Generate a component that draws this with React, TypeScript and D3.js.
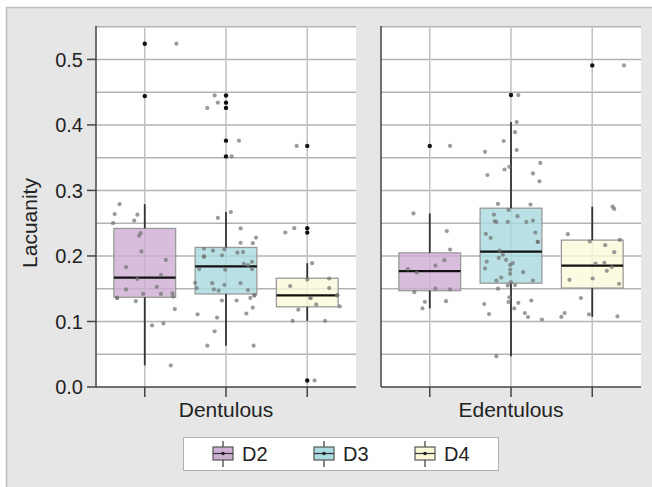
import * as d3 from 'd3';
import React from 'react';

// groups along the x axis of each panel
const panels = ['Dentulous', 'Edentulous'];
const series = ['D2', 'D3', 'D4'];
const seriesColors = ['#ceaed3', '#a9dbe0', '#fbf9d8'];
const yTicks = [0, 0.1, 0.2, 0.3, 0.4, 0.5];

// box stats per panel / series: [lowWhisker, q1, median, q3, highWhisker]
const dentStats = [
  [0.033, 0.137, 0.167, 0.242, 0.279],
  [0.063, 0.142, 0.184, 0.213, 0.267],
  [0.101, 0.1224, 0.1397, 0.166, 0.189],
];
const edentStats = [
  [0.12, 0.147, 0.1768, 0.2047, 0.265],
  [0.047, 0.1585, 0.2067, 0.2729, 0.4044],
  [0.107, 0.151, 0.1854, 0.2242, 0.2753],
];

// observations: [lacunarity, jitter (fraction of category step)]
const dentD2 = [
  [0.524, 0.39], [0.444, 0], [0.279, -0.31], [0.264, -0.37], [0.263, -0.09], [0.25, -0.39],
  [0.254, -0.13], [0.235, -0.05], [0.231, -0.07], [0.207, -0.04], [0.194, 0.26], [0.183, -0.23],
  [0.171, 0.2], [0.165, -0.09], [0.153, 0.15], [0.149, -0.23], [0.142, -0.02], [0.142, 0.2],
  [0.143, 0.34], [0.138, 0.35], [0.136, -0.34], [0.136, -0.34], [0.131, -0.11], [0.119, 0.37],
  [0.094, 0.09], [0.097, 0.23], [0.033, 0.32],
];
const dentD3 = [
  [0.445, -0.14], [0.434, -0.1], [0.426, -0.23], [0.376, 0.16], [0.352, 0.07],
  [0.267, 0.06], [0.258, -0.1], [0.242, 0.18], [0.228, 0.37], [0.22, 0.18], [0.2195, 0.33],
  [0.211, -0.27], [0.208, -0.16], [0.21, -0.02], [0.205, 0.14], [0.206, 0.21], [0.199, -0.27],
  [0.199, -0.27], [0.201, -0.05], [0.188, 0.22], [0.186, 0.27], [0.191, 0.32], [0.18, 0.32],
  [0.18, -0.33], [0.179, -0.01], [0.159, -0.38], [0.151, -0.36], [0.1585, -0.17], [0.156, -0.02],
  [0.1585, 0.18], [0.149, -0.15], [0.147, -0.09], [0.148, 0.27], [0.14, 0.35], [0.14, 0.35],
  [0.136, 0.3], [0.132, -0.05], [0.132, 0.13], [0.121, 0.33], [0.112, 0.25], [0.111, -0.35],
  [0.106, -0.11], [0.085, -0.14], [0.063, -0.23], [0.063, 0.34],
];
const dentD4 = [
  [0.368, -0.13], [0.2424, -0.16], [0.2357, -0.27], [0.189, 0.06], [0.1656, 0.27], [0.164, 0],
  [0.154, -0.21], [0.151, 0.27], [0.14, 0.37], [0.14, 0.37], [0.136, 0.04], [0.136, 0.04],
  [0.126, 0.11], [0.123, 0.4], [0.118, -0.11], [0.101, -0.18], [0.101, 0.22], [0.01, 0.09],
];
const edentD2 = [
  [0.368, 0.25], [0.265, -0.2], [0.238, 0.21], [0.2098, 0.25], [0.1936, 0.18], [0.1854, 0.07],
  [0.18, -0.27], [0.1747, -0.16], [0.15, 0.07], [0.149, 0.25], [0.1448, -0.19], [0.13, -0.06],
  [0.131, 0.2], [0.12, -0.09],
];
const edentD3 = [
  [0.4456, 0.09], [0.4044, 0.07], [0.389, 0.05], [0.3755, -0.09], [0.359, -0.32], [0.3617, 0.07],
  [0.342, 0.36], [0.336, -0.02], [0.332, -0.08], [0.326, 0.27], [0.3236, -0.29], [0.314, 0.35],
  [0.2794, -0.16], [0.2784, 0.24], [0.27, -0.03], [0.263, -0.21], [0.2607, 0.08], [0.253, -0.2],
  [0.252, -0.18], [0.252, -0.04], [0.252, 0.19], [0.254, 0.27], [0.2337, -0.31], [0.2357, 0.3],
  [0.2276, -0.25], [0.2215, 0.33], [0.2215, 0.33], [0.2082, -0.14], [0.202, -0.1], [0.197, -0.15],
  [0.194, -0.06], [0.1915, -0.3], [0.1864, -0.01], [0.189, 0.02], [0.181, -0.32], [0.179, -0.01],
  [0.1727, -0.01], [0.1753, 0.15], [0.167, -0.12], [0.1625, -0.18], [0.1625, 0.27], [0.16, 0],
  [0.155, -0.04], [0.1555, 0.05], [0.15, -0.16], [0.137, -0.02], [0.1296, -0.03], [0.132, 0.25],
  [0.1285, 0.09], [0.1265, -0.33], [0.12, 0.04], [0.1113, -0.27], [0.1128, 0.17], [0.1067, 0.21],
  [0.103, 0.38], [0.047, -0.18],
];
const edentD4 = [
  [0.4909, 0.39], [0.2753, 0.25], [0.2718, 0.27], [0.2332, -0.3], [0.222, -0.03], [0.2245, 0.34],
  [0.2165, 0.16], [0.2058, 0.27], [0.1885, 0.04], [0.1895, 0.15], [0.183, 0.24], [0.1773, 0.18],
  [0.1636, -0.28], [0.1656, 0.005], [0.1575, 0.33], [0.1357, -0.14], [0.1128, -0.34], [0.107, -0.38],
  [0.1107, -0.04], [0.1077, 0.31],
];

const panelStats = [dentStats, edentStats];
const panelPoints = [
  [dentD2, dentD3, dentD4],
  [edentD2, edentD3, edentD4],
];

const W = 652;
const H = 487;
const top = 26;
const bottom = 387;
const panelLeft = [96, 381];
const panelWidth = 260;
const font = 'Liberation Sans, Arial, sans-serif';

function Panel({ index }) {
  const x0 = panelLeft[index];
  const y = d3.scaleLinear().domain([0, 0.551]).range([bottom, top]);
  const x = d3.scalePoint().domain(series).range([x0, x0 + panelWidth]).padding(0.6);
  const step = x.step();
  const boxW = step * 0.76;
  const grid = d3.range(0.05, 0.551, 0.05);

  return (
    <g>
      <rect x={x0} y={top} width={panelWidth} height={bottom - top} fill="#fff" />
      {grid.map((v) => (
        <line key={v} x1={x0} x2={x0 + panelWidth} y1={y(v)} y2={y(v)} stroke="#b3b3b3" strokeWidth={1.5} />
      ))}
      {series.map((s) => (
        <line key={s} x1={x(s)} x2={x(s)} y1={top} y2={bottom} stroke="#c2c2c2" strokeWidth={1.5} />
      ))}
      {series.map((s, i) => {
        const [lo, q1, med, q3, hi] = panelStats[index][i];
        const cx = x(s);
        return (
          <g key={s}>
            <rect x={cx - boxW / 2} y={y(q3)} width={boxW} height={y(q1) - y(q3)}
              fill={seriesColors[i]} fillOpacity={0.8} stroke="#9a9a9a" strokeWidth={1.3} />
            <line x1={cx} x2={cx} y1={y(q3)} y2={y(hi)} stroke="#333" strokeWidth={1.8} />
            <line x1={cx} x2={cx} y1={y(q1)} y2={y(lo)} stroke="#333" strokeWidth={1.8} />
            <line x1={cx - boxW / 2} x2={cx + boxW / 2} y1={y(med)} y2={y(med)} stroke="#111" strokeWidth={2.2} />
          </g>
        );
      })}
      {series.map((s, i) => {
        const [lo, , , , hi] = panelStats[index][i];
        const pts = panelPoints[index][i];
        const outliers = pts.filter((p) => p[0] > hi + 1e-4 || p[0] < lo - 1e-4);
        return (
          <g key={s}>
            {pts.map((p, k) => (
              <circle key={k} cx={x(s) + p[1] * step} cy={y(p[0])} r={2.1} fill="#707070" fillOpacity={0.7} />
            ))}
            {outliers.map((p, k) => (
              <circle key={'o' + k} cx={x(s)} cy={y(p[0])} r={2.2} fill="#111" />
            ))}
          </g>
        );
      })}
      <line x1={x0} x2={x0} y1={top} y2={bottom} stroke="#444" strokeWidth={1.5} />
      <line x1={x0} x2={x0 + panelWidth} y1={bottom} y2={bottom} stroke="#444" strokeWidth={1.5} />
      {series.map((s) => (
        <line key={s} x1={x(s)} x2={x(s)} y1={bottom} y2={bottom + 10} stroke="#444" strokeWidth={1.5} />
      ))}
      {index === 0 &&
        yTicks.map((t) => (
          <g key={t}>
            <line x1={x0 - 9} x2={x0} y1={y(t)} y2={y(t)} stroke="#444" strokeWidth={1.5} />
            <text x={x0 - 13} y={y(t)} dy="0.36em" textAnchor="end" fontSize={20} fill="#222" fontFamily={font}>
              {t.toFixed(1)}
            </text>
          </g>
        ))}
      <text x={x0 + panelWidth / 2} y={417} textAnchor="middle" fontSize={21} fill="#222" fontFamily={font}>
        {panels[index]}
      </text>
    </g>
  );
}

function Legend() {
  const lx = d3.scalePoint().domain(series).range([213, 415]);
  return (
    <g>
      <rect x={183.5} y={437.5} width={315} height={33} fill="#fff" stroke="#b0b0b0" strokeWidth={1} />
      {series.map((s, i) => {
        const bx = lx(s);
        return (
          <g key={s}>
            <line x1={bx + 10} x2={bx + 10} y1={441} y2={467} stroke="#444" strokeWidth={1.3} />
            <rect x={bx} y={447} width={20} height={13} fill={seriesColors[i]} stroke="#555" strokeWidth={1.2} />
            <line x1={bx} x2={bx + 20} y1={453.5} y2={453.5} stroke="#333" strokeWidth={1.2} />
            <circle cx={bx + 10} cy={453.5} r={1.8} fill="#222" />
            <text x={bx + 29} y={461} fontSize={20} fill="#222" fontFamily={font}>{s}</text>
          </g>
        );
      })}
    </g>
  );
}

export default function App() {
  return (
    <svg width={W} height={H} style={{ position: 'absolute', left: 0, top: 0 }}>
      <rect x={0} y={0} width={W} height={H} fill="#fff" />
      <rect x={6.5} y={7.5} width={W + 10} height={H + 10} fill="#e6e6e6" stroke="#bdbdbd" strokeWidth={1.5} />
      <Panel index={0} />
      <Panel index={1} />
      <text transform={`translate(37,223) rotate(-90)`} textAnchor="middle" fontSize={21} fill="#222" fontFamily={font}>
        Lacuanity
      </text>
      <Legend />
    </svg>
  );
}
